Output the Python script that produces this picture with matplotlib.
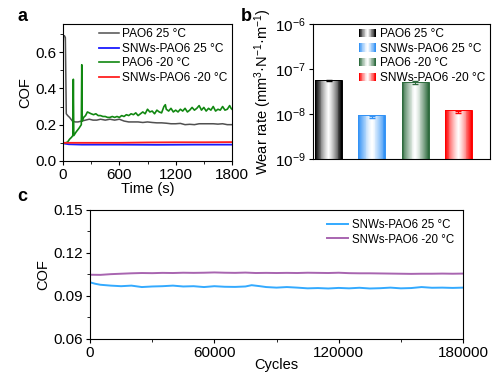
import numpy as np
import matplotlib.pyplot as plt
from matplotlib.patches import Rectangle, Patch
from matplotlib.legend_handler import HandlerBase
from matplotlib.colors import to_rgb
from matplotlib.ticker import MultipleLocator, LogLocator, NullFormatter

plt.rcParams['font.family'] = ['Liberation Sans', 'DejaVu Sans']
plt.rcParams['mathtext.fontset'] = 'custom'
plt.rcParams['mathtext.rm'] = 'Liberation Sans'
plt.rcParams['mathtext.it'] = 'Liberation Sans'

# ---- panel a data: COF vs time ----
t_gray = [0, 5, 15, 25, 35, 50, 70, 100, 130, 160, 200, 240, 280, 320, 360, 400, 450, 500,
          550, 600, 650, 700, 750, 800, 850, 900, 950, 1000, 1050, 1100, 1150, 1200, 1250,
          1300, 1350, 1400, 1450, 1500, 1550, 1600, 1650, 1700, 1750, 1800]
cof_gray = [0.62, 0.69, 0.69, 0.68, 0.26, 0.25, 0.24, 0.22, 0.215, 0.215, 0.22, 0.225, 0.23,
            0.225, 0.225, 0.23, 0.225, 0.23, 0.225, 0.23, 0.22, 0.215, 0.215, 0.215, 0.212,
            0.215, 0.212, 0.21, 0.21, 0.208, 0.205, 0.205, 0.207, 0.2, 0.202, 0.2, 0.205,
            0.205, 0.205, 0.205, 0.203, 0.205, 0.2, 0.2]

t_green = [0, 30, 50, 70, 90, 105, 110, 115, 140, 170, 195, 200, 205, 220, 240, 260, 280, 300,
           325, 350, 375, 400, 425, 450, 475, 500, 525, 550, 575, 600, 625, 650, 675, 700, 725,
           750, 775, 800, 825, 850, 875, 900, 925, 950, 975, 1000, 1025, 1050, 1075, 1090,
           1100, 1125, 1150, 1175, 1200, 1225, 1250, 1275, 1300, 1325, 1350, 1375, 1400, 1425,
           1450, 1475, 1500, 1525, 1550, 1575, 1600, 1625, 1650, 1675, 1700, 1725, 1750, 1775,
           1790, 1800]
cof_green = [0.10, 0.10, 0.105, 0.12, 0.13, 0.14, 0.45, 0.14, 0.16, 0.18, 0.2, 0.53, 0.22,
             0.24, 0.25, 0.27, 0.265, 0.26, 0.255, 0.26, 0.25, 0.25, 0.245, 0.245, 0.24, 0.24,
             0.245, 0.24, 0.245, 0.24, 0.25, 0.245, 0.255, 0.25, 0.26, 0.255, 0.265, 0.25, 0.26,
             0.27, 0.26, 0.285, 0.27, 0.275, 0.26, 0.28, 0.27, 0.265, 0.3, 0.31, 0.285, 0.275,
             0.29, 0.27, 0.28, 0.27, 0.285, 0.275, 0.29, 0.27, 0.28, 0.295, 0.28, 0.29, 0.305,
             0.28, 0.295, 0.275, 0.29, 0.28, 0.3, 0.275, 0.285, 0.28, 0.3, 0.28, 0.285, 0.305,
             0.29, 0.285]

t_blue = [0, 60, 200, 600, 1000, 1400, 1800]
cof_blue = [0.097, 0.092, 0.09, 0.09, 0.089, 0.09, 0.09]

t_red = [0, 200, 600, 900, 1200, 1500, 1800]
cof_red = [0.1, 0.1, 0.1, 0.102, 0.103, 0.103, 0.104]

# ---- panel b data: wear rate ----
samples = ['PAO6 25 °C', 'SNWs-PAO6 25 °C', 'PAO6 -20 °C', 'SNWs-PAO6 -20 °C']
wear = [5.5e-8, 8.6e-9, 5.0e-8, 1.1e-8]
wear_err = [2e-9, 3e-10, 3e-9, 6e-10]
bar_colors = ['#000000', '#3392f5', '#2e6b3e', '#ff0000']

# ---- panel c data: long-term COF ----
cyc_purple = list(range(0, 180001, 5000))
cof_purple = [0.1048, 0.1047, 0.1052, 0.1055, 0.1058, 0.106, 0.1059, 0.1061, 0.106, 0.1062,
              0.1061, 0.1062, 0.1064, 0.1062, 0.1061, 0.1063, 0.106, 0.1061, 0.106, 0.1061,
              0.106, 0.1062, 0.1061, 0.106, 0.1062, 0.1059, 0.1058, 0.1058, 0.1057, 0.1056,
              0.1055, 0.1054, 0.1055, 0.1055, 0.1056, 0.1055, 0.1056]
cyc_sky = [0, 2500, 5000, 10000, 15000, 20000, 25000, 30000, 35000, 40000, 45000, 50000, 55000,
           60000, 65000, 70000, 75000, 78000, 82000, 85000, 90000, 95000, 100000, 105000,
           110000, 115000, 120000, 125000, 130000, 135000, 140000, 145000, 150000, 155000,
           160000, 165000, 170000, 175000, 180000]
cof_sky = [0.0995, 0.0985, 0.0978, 0.0972, 0.0968, 0.0972, 0.0962, 0.0966, 0.0968, 0.0972,
           0.0966, 0.0968, 0.0962, 0.0968, 0.0964, 0.0963, 0.0966, 0.0975, 0.0968, 0.0962,
           0.0958, 0.0962, 0.0958, 0.0953, 0.0955, 0.0952, 0.0956, 0.0953, 0.0957, 0.0952,
           0.0954, 0.0958, 0.0953, 0.0955, 0.0962, 0.0957, 0.0958, 0.0956, 0.0958]

TICK = 11
LAB = 10.5
LEG = 8.6


def shade(c, f):
    # f=0 -> base colour, f=1 -> white
    c = np.array(to_rgb(c))
    return tuple(c + (1 - c) * f)


def profile(n):
    u = np.linspace(-1, 1, n)
    return 1 - np.abs(u) ** 1.3


class GradHandler(HandlerBase):
    def create_artists(self, legend, orig_handle, xdescent, ydescent, width, height,
                       fontsize, trans):
        col = orig_handle.get_facecolor()
        n = 24
        out = []
        for i, f in enumerate(profile(n)):
            r = Rectangle((-xdescent + i * width / n, -ydescent), width / n * 1.05, height,
                          facecolor=shade(col, f), edgecolor='none', transform=trans)
            out.append(r)
        return out


fig = plt.figure(figsize=(5, 3.86), dpi=100)

# ---------- a ----------
ax = fig.add_axes([0.126, 0.583, 0.338, 0.355])
ax.plot(t_gray, cof_gray, color='#505050', lw=1.1, label='PAO6 25 °C')
ax.plot(t_blue, cof_blue, color='#1a1aff', lw=1.3, label='SNWs-PAO6 25 °C')
ax.plot(t_green, cof_green, color='#118811', lw=1.2, label='PAO6 -20 °C')
ax.plot(t_red, cof_red, color='#ff2020', lw=1.3, label='SNWs-PAO6 -20 °C')
ax.set_xlim(0, 1800)
ax.set_ylim(0, 0.755)
ax.set_xticks([0, 600, 1200, 1800])
ax.set_yticks([0.0, 0.2, 0.4, 0.6])
ax.xaxis.set_minor_locator(MultipleLocator(300))
ax.yaxis.set_minor_locator(MultipleLocator(0.1))
ax.tick_params(labelsize=TICK, length=3, width=0.8, pad=2)
ax.tick_params(which='minor', length=2, width=0.6)
ax.set_xlabel('Time (s)', fontsize=LAB, labelpad=0)
ax.set_ylabel('COF', fontsize=LAB, labelpad=2)
ax.legend(loc='upper right', frameon=False, fontsize=LEG, handlelength=1.7,
          handletextpad=0.3, labelspacing=0.22, borderaxespad=0.05, borderpad=0.3)
fig.text(0.035, 0.957, 'a', fontsize=13, fontweight='bold', va='center')

# ---------- b ----------
bx = fig.add_axes([0.626, 0.588, 0.354, 0.35])
pos = np.arange(1, len(wear) + 1)
bw = 0.62
for p, w, e, c in zip(pos, wear, wear_err, bar_colors):
    n = 30
    for i, f in enumerate(profile(n)):
        bx.bar(p - bw / 2 + i * bw / n, w, width=bw / n * 1.05, bottom=1e-9, align='edge',
               color=shade(c, f), edgecolor='none')
    bx.bar(p, w, width=bw, bottom=1e-9, facecolor='none', edgecolor=c, lw=0.7)
    bx.errorbar(p, w, yerr=e, color=c, capsize=2, lw=0.8, capthick=1.0)
bx.set_yscale('log')
bx.set_ylim(1e-9, 1e-6)
bx.set_xlim(0.64, 4.73)
bx.set_xticks([])
bx.yaxis.set_major_locator(LogLocator(base=10, numticks=10))
bx.yaxis.set_minor_formatter(NullFormatter())
bx.tick_params(axis='y', which='minor', length=0)
bx.tick_params(labelsize=TICK, length=3, width=0.8, pad=2)
bx.set_ylabel('Wear rate (mm$^3$·N$^{-1}$·m$^{-1}$)', fontsize=LAB, labelpad=1)
handles = [Patch(facecolor=c) for c in bar_colors]
bx.legend(handles, samples, loc='upper right', frameon=False, fontsize=LEG,
          handler_map={Patch: GradHandler()}, handlelength=1.4, handleheight=0.7,
          handletextpad=0.4, labelspacing=0.22, borderaxespad=0.05, borderpad=0.3)
fig.text(0.482, 0.957, 'b', fontsize=13, fontweight='bold', va='center')

# ---------- c ----------
cx = fig.add_axes([0.18, 0.122, 0.746, 0.334])
cx.plot(cyc_sky, cof_sky, color='#33aaff', lw=1.4, label='SNWs-PAO6 25 °C')
cx.plot(cyc_purple, cof_purple, color='#a865b0', lw=1.4, label='SNWs-PAO6 -20 °C')
cx.set_xlim(0, 180000)
cx.set_ylim(0.06, 0.15)
cx.set_xticks([0, 60000, 120000, 180000])
cx.set_yticks([0.06, 0.09, 0.12, 0.15])
cx.xaxis.set_minor_locator(MultipleLocator(30000))
cx.yaxis.set_minor_locator(MultipleLocator(0.015))
cx.tick_params(labelsize=TICK, length=3, width=0.8, pad=2)
cx.tick_params(which='minor', length=2, width=0.6)
cx.set_xlabel('Cycles', fontsize=LAB, labelpad=-1)
cx.set_ylabel('COF', fontsize=LAB, labelpad=2)
cx.legend(loc='upper right', frameon=False, fontsize=LEG - 0.3, handlelength=1.8,
          handletextpad=0.3, labelspacing=0.2, borderaxespad=0.5, borderpad=0.3)
fig.text(0.035, 0.49, 'c', fontsize=13, fontweight='bold', va='center')

fig.savefig('out.png', dpi=100)
